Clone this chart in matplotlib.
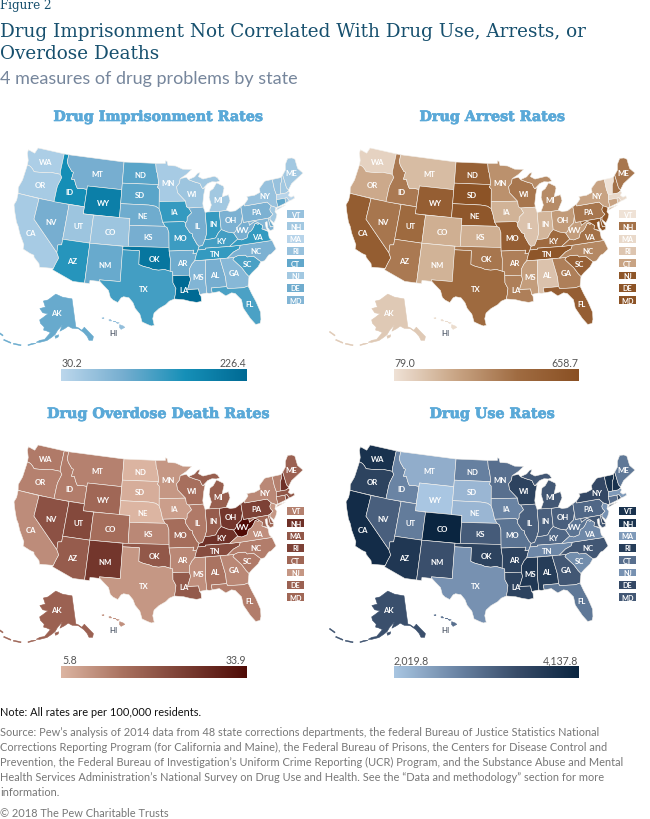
#!/usr/bin/env python
import numpy as np
import matplotlib
matplotlib.use('Agg')
from matplotlib import pyplot as plt
from matplotlib import patheffects
from matplotlib.colors import LinearSegmentedColormap, Normalize
from matplotlib.patches import Polygon, Rectangle

# state outlines, lon/lat
SHAPES = {
'WA': [[(-124.7,48.4),(-123.2,48.15),(-122.8,49.0),(-117.03,49.0),(-117.04,46.4),(-116.92,46.0),(-118.98,46.0),(-119.3,45.93),(-120.5,45.7),(-121.2,45.65),(-122.3,45.55),(-122.8,45.9),(-123.3,46.15),(-124.0,46.27),(-124.1,46.9),(-124.7,47.9)]],
'OR': [[(-124.0,46.27),(-123.3,46.15),(-122.8,45.9),(-122.3,45.55),(-121.2,45.65),(-120.5,45.7),(-119.3,45.93),(-118.98,46.0),(-116.92,46.0),(-116.5,45.6),(-117.0,44.3),(-117.03,43.8),(-117.03,42.0),(-124.2,42.0),(-124.5,42.8),(-124.1,44.0)]],
'CA': [[(-124.2,42),(-120,42),(-120,39),(-114.63,35.0),(-114.13,34.3),(-114.5,33.4),(-114.72,32.72),(-117.12,32.53),(-117.3,33.0),(-118.4,33.75),(-118.5,34.03),(-119.2,34.15),(-120.6,34.55),(-120.65,35.15),(-121.9,36.6),(-122.5,37.5),(-123.0,38.0),(-123.8,39.3),(-124.35,40.3),(-124.1,41.0)]],
'NV': [[(-120,42),(-114.04,42),(-114.04,36.2),(-114.7,36.1),(-114.63,35),(-120,39)]],
'ID': [[(-117.03,49),(-116.05,49),(-116.05,48.0),(-115.7,47.5),(-114.7,46.7),(-114.35,46.65),(-114.5,45.6),(-113.9,45.65),(-113.45,44.95),(-113.0,44.45),(-112.0,44.55),(-111.05,44.5),(-111.05,42),(-117.03,42),(-117.03,43.8),(-117.0,44.3),(-116.5,45.6),(-116.92,46.0),(-117.04,46.4)]],
'MT': [[(-116.05,49),(-104.05,49),(-104.05,45),(-111.05,45),(-111.05,44.5),(-112,44.55),(-113,44.45),(-113.45,44.95),(-113.9,45.65),(-114.5,45.6),(-114.35,46.65),(-114.7,46.7),(-115.7,47.5),(-116.05,48)]],
'WY': [[(-111.05,45),(-104.05,45),(-104.05,41),(-111.05,41)]],
'UT': [[(-114.04,42),(-111.05,42),(-111.05,41),(-109.05,41),(-109.05,37),(-114.04,37)]],
'CO': [[(-109.05,41),(-102.05,41),(-102.05,37),(-109.05,37)]],
'AZ': [[(-114.04,37),(-109.05,37),(-109.05,31.33),(-111.07,31.33),(-114.8,32.5),(-114.72,32.72),(-114.5,33.4),(-114.13,34.3),(-114.63,35),(-114.7,36.1),(-114.04,36.2)]],
'NM': [[(-109.05,37),(-103.0,37),(-103.04,32),(-106.6,32),(-106.5,31.78),(-108.2,31.78),(-108.2,31.33),(-109.05,31.33)]],
'ND': [[(-104.05,49),(-97.23,49),(-97.1,48),(-96.85,47.5),(-96.6,46.3),(-96.56,45.94),(-104.05,45.94)]],
'SD': [[(-104.05,45.94),(-96.56,45.94),(-96.85,45.6),(-96.45,45.3),(-96.45,43.5),(-96.45,42.5),(-97.2,42.85),(-98.5,43.0),(-104.05,43)]],
'NE': [[(-104.05,43),(-98.5,43),(-97.2,42.85),(-96.45,42.5),(-96.1,41.7),(-95.9,41.0),(-95.77,40.58),(-95.31,40),(-102.05,40),(-102.05,41),(-104.05,41)]],
'KS': [[(-102.05,40),(-95.31,40),(-94.9,39.8),(-94.61,39.1),(-94.62,37),(-102.05,37)]],
'OK': [[(-103,37),(-94.62,37),(-94.62,36.5),(-94.43,35.4),(-94.48,33.64),(-95.5,33.9),(-96.5,33.8),(-97.5,33.9),(-98.1,34.1),(-99.2,34.3),(-100,34.56),(-100,36.5),(-103,36.5)]],
'TX': [[(-103.04,36.5),(-100,36.5),(-100,34.56),(-99.2,34.3),(-98.1,34.1),(-97.5,33.9),(-96.5,33.8),(-95.5,33.9),(-94.48,33.64),(-94.04,33.55),(-94.04,33.0),(-94.04,32),(-93.55,31.2),(-93.7,30.3),(-93.85,29.7),(-94.7,29.4),(-95.3,28.9),(-96.4,28.35),(-97.2,27.7),(-97.4,26.9),(-97.15,25.96),(-97.6,25.85),(-98.2,26.05),(-99.1,26.4),(-99.5,27.5),(-100.3,28.3),(-100.7,29.1),(-101.4,29.77),(-102.3,29.88),(-102.7,29.7),(-103.2,29.0),(-104.0,29.3),(-104.5,29.65),(-104.9,30.6),(-106.0,31.4),(-106.5,31.78),(-106.6,32),(-103.04,32)]],
'MN': [[(-97.23,49),(-95.15,49),(-95.15,49.38),(-94.8,49.3),(-94.6,48.7),(-93.0,48.6),(-91.5,48.1),(-89.6,48.0),(-90.8,47.3),(-92.1,46.75),(-92.3,46.1),(-92.9,45.6),(-92.75,44.75),(-91.22,43.5),(-96.45,43.5),(-96.45,45.3),(-96.85,45.6),(-96.56,45.94),(-96.6,46.3),(-96.85,47.5),(-97.1,48)]],
'IA': [[(-96.45,43.5),(-91.22,43.5),(-91.1,42.7),(-90.65,42.5),(-90.15,41.8),(-91.05,41.2),(-91.1,40.7),(-91.42,40.38),(-91.73,40.61),(-95.77,40.58),(-95.9,41.0),(-96.1,41.7),(-96.45,42.5)]],
'MO': [[(-95.77,40.58),(-91.73,40.61),(-91.42,40.38),(-91.4,39.9),(-90.7,39.0),(-90.2,38.8),(-90.2,38.4),(-89.5,37.3),(-89.15,37.0),(-89.4,36.5),(-89.7,36.0),(-90.37,36.0),(-90.15,36.5),(-94.62,36.5),(-94.62,37),(-94.61,39.1),(-94.9,39.8),(-95.31,40)]],
'AR': [[(-94.62,36.5),(-90.15,36.5),(-90.37,36),(-89.7,36),(-90.1,35.0),(-90.6,34.6),(-91.1,33.9),(-91.17,33.0),(-94.04,33.0),(-94.04,33.55),(-94.48,33.64),(-94.43,35.4)]],
'LA': [[(-94.04,33),(-91.17,33),(-91.0,32.4),(-91.6,31.0),(-89.75,31.0),(-89.6,30.2),(-89.4,29.9),(-89.4,29.2),(-90.2,29.1),(-91.3,29.3),(-92.3,29.55),(-93.85,29.7),(-93.7,30.3),(-93.55,31.2),(-94.04,32)]],
'WI': [[(-92.1,46.75),(-90.8,46.9),(-90.4,46.55),(-89.1,46.15),(-88.1,45.9),(-87.8,45.35),(-87.6,45.1),(-87.1,45.25),(-87.5,44.3),(-87.85,43.0),(-87.8,42.5),(-90.65,42.5),(-91.1,42.7),(-91.22,43.5),(-92.75,44.75),(-92.9,45.6),(-92.3,46.1)]],
'IL': [[(-90.65,42.5),(-87.8,42.5),(-87.53,41.72),(-87.53,39.3),(-87.6,38.7),(-88.0,37.9),(-88.5,37.1),(-89.15,37.0),(-89.5,37.3),(-90.2,38.4),(-90.2,38.8),(-90.7,39),(-91.4,39.9),(-91.42,40.38),(-91.1,40.7),(-91.05,41.2),(-90.15,41.8)]],
'IN': [[(-87.53,41.72),(-87.2,41.76),(-84.8,41.76),(-84.82,39.1),(-85.4,38.7),(-86.0,38.0),(-87.0,37.9),(-88.0,37.9),(-87.6,38.7),(-87.53,39.3)]],
'OH': [[(-84.8,41.7),(-83.45,41.73),(-82.7,41.5),(-81.7,41.5),(-80.52,41.98),(-80.52,40.64),(-80.85,39.7),(-81.7,39.2),(-82.2,38.6),(-82.6,38.42),(-83.7,38.65),(-84.82,39.1)]],
'MI': [[(-86.8,41.76),(-84.8,41.7),(-83.45,41.73),(-83.1,42.2),(-82.45,43.0),(-82.6,43.9),(-83.9,43.7),(-83.3,44.9),(-83.4,45.2),(-84.7,45.78),(-85.5,45.0),(-86.2,44.7),(-86.5,43.8),(-86.2,42.7)],
       [(-90.4,46.55),(-89.1,46.9),(-88.4,47.4),(-87.9,47.45),(-88.3,46.9),(-87.4,46.5),(-85.0,46.75),(-84.4,46.5),(-84.0,46.0),(-84.7,45.9),(-85.6,46.0),(-86.5,45.8),(-87.6,45.1),(-87.8,45.35),(-88.1,45.9),(-89.1,46.15)]],
'KY': [[(-89.15,37),(-88.5,37.1),(-88.0,37.9),(-87,37.9),(-86,38),(-85.4,38.7),(-84.82,39.1),(-83.7,38.65),(-82.6,38.42),(-82.0,37.5),(-83.67,36.6),(-88.07,36.68),(-88.07,36.5),(-89.4,36.5)]],
'TN': [[(-89.4,36.5),(-88.07,36.5),(-88.07,36.68),(-83.67,36.6),(-81.68,36.59),(-82.0,36.1),(-83.1,35.75),(-84.3,35.0),(-90.1,35.0),(-89.7,36)]],
'MS': [[(-90.1,35),(-88.2,35),(-88.45,31.9),(-88.4,30.35),(-89.6,30.2),(-89.75,31),(-91.6,31),(-91,32.4),(-91.17,33),(-91.1,33.9),(-90.6,34.6)]],
'AL': [[(-88.2,35),(-85.6,35),(-85.0,32.3),(-85.0,31.0),(-87.6,31.0),(-87.5,30.3),(-88.0,30.25),(-88.4,30.35),(-88.45,31.9)]],
'GA': [[(-85.6,35),(-83.1,35),(-83.35,34.7),(-82.0,33.4),(-81.4,32.5),(-81.0,32.05),(-81.4,30.72),(-82.2,30.57),(-84.86,30.7),(-85,31),(-85,32.3)]],
'FL': [[(-87.6,31),(-85,31),(-84.86,30.7),(-82.2,30.57),(-81.4,30.72),(-81.0,29.6),(-80.5,28.4),(-80.03,26.8),(-80.15,25.75),(-80.4,25.2),(-81.1,25.15),(-81.8,26.1),(-82.7,27.7),(-82.8,28.9),(-83.7,29.9),(-84.3,30.05),(-85.3,29.7),(-86.3,30.4),(-87.5,30.3)]],
'SC': [[(-83.35,34.7),(-83.1,35),(-82.3,35.2),(-81.05,35.1),(-80.8,34.82),(-79.67,34.8),(-78.55,33.86),(-79.2,33.2),(-80.4,32.5),(-81.0,32.05),(-81.4,32.5),(-82.0,33.4)]],
'NC': [[(-84.3,35),(-83.1,35),(-82.3,35.2),(-81.05,35.1),(-80.8,34.82),(-79.67,34.8),(-78.55,33.86),(-77.9,33.9),(-77.0,34.6),(-76.5,34.7),(-75.5,35.25),(-75.9,36.55),(-81.68,36.59),(-82,36.1),(-83.1,35.75)]],
'VA': [[(-83.67,36.6),(-82.0,37.5),(-81.3,37.3),(-80.3,37.5),(-79.9,38.2),(-79.3,38.4),(-78.87,38.76),(-78.35,39.35),(-77.83,39.13),(-77.7,39.3),(-77.05,38.85),(-77.3,38.4),(-76.3,37.9),(-76.3,37.0),(-75.95,36.55),(-81.68,36.59)]],
'WV': [[(-82.6,38.42),(-82.2,38.6),(-81.7,39.2),(-80.85,39.7),(-80.52,40.64),(-80.52,39.72),(-79.48,39.72),(-79.48,39.2),(-78.35,39.65),(-77.7,39.3),(-77.83,39.13),(-78.35,39.35),(-78.87,38.76),(-79.3,38.4),(-79.9,38.2),(-80.3,37.5),(-81.3,37.3),(-82,37.5)]],
'PA': [[(-80.52,41.98),(-79.76,42.25),(-79.76,42),(-75.35,42),(-74.7,41.35),(-75.1,40.95),(-75.1,40.6),(-74.72,40.15),(-75.4,39.8),(-75.79,39.72),(-80.52,39.72),(-80.52,40.64)]],
'NY': [[(-79.76,42.25),(-78.9,42.9),(-79.05,43.27),(-77.5,43.27),(-76.3,43.55),(-76.3,44.1),(-75.0,44.95),(-74.7,45),(-73.35,45),(-73.4,43.6),(-73.25,42.75),(-73.5,42.05),(-73.5,41.3),(-73.65,41.0),(-73.9,41.0),(-74.7,41.35),(-75.35,42),(-79.76,42)],
       [(-74.0,40.6),(-72.0,41.05),(-73.6,40.9)]],
'VT': [[(-73.35,45),(-71.5,45),(-71.6,44.5),(-72.05,44.0),(-72.46,42.73),(-73.25,42.75),(-73.4,43.6)]],
'NH': [[(-71.5,45),(-71.08,45.3),(-70.98,43.4),(-70.7,43.05),(-70.82,42.87),(-71.3,42.7),(-72.46,42.73),(-72.05,44),(-71.6,44.5)]],
'ME': [[(-71.08,45.3),(-70.3,45.9),(-70.0,46.7),(-69.2,47.45),(-68.3,47.35),(-67.79,47.07),(-67.79,45.7),(-67.0,44.85),(-68.5,44.3),(-69.8,43.8),(-70.7,43.05),(-70.98,43.4)]],
'MA': [[(-73.5,42.05),(-73.25,42.75),(-71.3,42.7),(-70.82,42.87),(-70.6,42.65),(-71.0,42.3),(-70.6,41.95),(-70.0,42.05),(-69.95,41.7),(-70.65,41.55),(-71.12,41.5),(-71.38,42.02),(-71.8,42.02)]],
'RI': [[(-71.8,42.02),(-71.38,42.02),(-71.12,41.5),(-71.86,41.32)]],
'CT': [[(-73.5,42.05),(-71.8,42.02),(-71.86,41.32),(-73.65,41.0),(-73.5,41.3)]],
'NJ': [[(-74.7,41.35),(-73.9,41.0),(-74.25,40.45),(-74.0,40.0),(-74.4,39.4),(-74.9,38.93),(-75.5,39.5),(-75.4,39.8),(-74.72,40.15),(-75.1,40.6),(-75.1,40.95)]],
'DE': [[(-75.79,39.72),(-75.4,39.8),(-75.55,39.45),(-75.05,38.45),(-75.7,38.46)]],
'MD': [[(-79.48,39.72),(-75.79,39.72),(-75.7,38.46),(-75.05,38.45),(-75.25,38.03),(-75.9,37.95),(-76.2,38.4),(-76.1,39.3),(-76.5,39.2),(-76.5,38.5),(-76.35,38.05),(-77.3,38.4),(-77.05,38.85),(-77.7,39.3),(-78.35,39.65),(-79.48,39.2)]],
}
AK_SHAPE = [
    [(-141,69.6),(-141,60.3),(-139.5,59.9),(-137.5,58.9),(-135.5,59.7),(-134,58.4),(-131.5,56),(-132.5,54.9),(-134.5,55.2),(-135,56.5),(-136.5,58.0),(-139.5,59.6),(-143.5,60.0),(-146,60.8),(-148.5,60),(-151.5,59.2),(-150,61.2),(-153,59.5),(-154.5,58.0),(-156.5,57),(-159,55.8),(-163,54.8),(-164.9,54.6),(-163,55.5),(-160.5,56.0),(-157.5,58.5),(-160,58.9),(-162,59),(-162,60),(-165,61),(-166,62),(-164,63),(-161,64.5),(-165,64.5),(-168,65.6),(-164,66.5),(-166.8,68.3),(-163,69),(-156.5,71.3),(-150,70.4),(-145,70)],
    [(-154.5,57.5),(-152.3,58.0),(-152.5,57.3),(-154,56.8)],
    [(-164.9,54.2),(-166.8,53.6),(-168.8,52.9),(-169,53.1),(-167,53.9)],
    [(-172.5,52.1),(-176.5,51.7),(-176.5,52.0),(-172.5,52.4)],
    [(-178,51.6),(-182,51.5),(-182,51.8),(-178,51.9)],
    [(-183.5,52.6),(-187,52.8),(-187,53.1),(-183.5,52.9)],
]
HI_SHAPE = [
    [(-155.9,20.25),(-155.1,19.85),(-154.8,19.5),(-155.6,18.95),(-155.95,19.5)],
    [(-156.7,20.95),(-156.0,20.75),(-156.4,20.58)],
    [(-157.3,21.2),(-156.75,21.15),(-157,21.08)],
    [(-158.25,21.55),(-157.95,21.7),(-157.65,21.3),(-158.1,21.3)],
    [(-159.75,22.1),(-159.35,22.2),(-159.35,21.9),(-159.6,21.9)],
]
LABEL_AT = {
'WA':(-120.5,47.4),'OR':(-120.5,44),'CA':(-120,37),'NV':(-116.8,39.2),'ID':(-114.5,43.8),'MT':(-109.5,47),'WY':(-107.5,43),
'UT':(-111.6,39.3),'CO':(-105.6,39),'AZ':(-111.7,34.3),'NM':(-106,34.3),'ND':(-100.5,47.4),'SD':(-100.3,44.4),'NE':(-99.7,41.5),
'KS':(-98.4,38.5),'OK':(-97.3,35.5),'TX':(-99,31.2),'MN':(-94.6,46.2),'IA':(-93.5,42.1),'MO':(-92.5,38.4),'AR':(-92.4,34.8),
'LA':(-92.2,31),'WI':(-89.8,44.5),'IL':(-89.2,40),'MI':(-84.8,43.4),'IN':(-86.2,40),'OH':(-82.8,40.3),'KY':(-85,37.5),
'TN':(-86.3,35.8),'MS':(-89.7,32.7),'AL':(-86.8,32.8),'GA':(-83.4,32.8),'FL':(-81.6,28.2),'SC':(-80.9,33.9),'NC':(-79,35.5),
'VA':(-78.4,37.5),'WV':(-80.8,38.7),'PA':(-77.7,41),'NY':(-75.5,43),'ME':(-69.2,45.3),
}

STATES = ['WA','OR','CA','NV','ID','MT','WY','UT','CO','AZ','NM','ND','SD','NE','KS','OK','TX',
          'MN','IA','MO','AR','LA','WI','IL','MI','IN','OH','KY','TN','MS','AL','GA','FL','SC','NC',
          'VA','WV','PA','NY','ME','VT','NH','MA','RI','CT','NJ','DE','MD','AK','HI']
SMALL_STATES = ['VT','NH','MA','RI','CT','NJ','DE','MD']

imprisonment = [45,50,50,95,165,95,190,60,60,150,105,115,115,100,95,205,130,
                50,140,135,100,226.4,60,95,55,140,90,130,140,85,95,80,125,125,90,
                140,95,90,65,55,65,55,35,65,110,55,100,85,105,70]
arrests = [130,260,570,430,420,200,560,480,240,420,230,540,640,610,240,430,480,
           340,230,560,400,400,430,180,360,220,310,480,620,300,180,400,560,540,370,
           450,300,430,280,430,79,450,110,170,280,620,630,640,160,100]
overdose = [14,13,11.5,21,13.5,13,17,22.5,16,19,26,6,7,5.8,12,19.8,10,
            10,9,16,12,19.5,15.5,14,18.5,19,26,27,22,11,15,12,13.5,14,13.5,
            11,33.9,24,12,18,13,27,20,24,17,10,18,17,18,11]
drug_use = [3900,3600,4000,3200,2750,2300,2020,2850,4137,3800,3400,2800,2200,2200,3250,3600,2600,
            3000,2750,2950,3600,3600,3600,3200,3300,3200,3200,3100,2700,3800,3700,3300,2900,2650,3300,
            2700,2950,3100,3500,2900,3900,3900,2500,3700,3000,2600,3500,3300,3400,3000]

TITLES = ['Drug Imprisonment Rates','Drug Arrest Rates','Drug Overdose Death Rates','Drug Use Rates']
RANGE_LABELS = [('30.2','226.4'),('79.0','658.7'),('5.8','33.9'),('2,019.8','4,137.8')]
RANGES = [(30.2,226.4),(79.0,658.7),(5.8,33.9),(2019.8,4137.8)]
SERIES = [imprisonment,arrests,overdose,drug_use]
RAMPS = [['#bcd7ec','#76aed0','#1690b8','#006a94'],
         ['#efe2d6','#c9a585','#a06c42','#8a5023'],
         ['#dcb5a2','#a9715f','#7a3e33','#4f0b06'],
         ['#a9c6e2','#6c86a6','#384c69','#0a2540']]
OFFSETS = [(0,0),(332,0),(0,297),(332,297)]

NOTE = 'Note: All rates are per 100,000 residents.'
SOURCE = ["Source: Pew\u2019s analysis of 2014 data from 48 state corrections departments, the federal Bureau of Justice Statistics National",
          "Corrections Reporting Program (for California and Maine), the Federal Bureau of Prisons, the Centers for Disease Control and",
          "Prevention, the Federal Bureau of Investigation\u2019s Uniform Crime Reporting (UCR) Program, and the Substance Abuse and Mental",
          "Health Services Administration\u2019s National Survey on Drug Use and Health. See the \u201cData and methodology\u201d section for more",
          "information."]

def albers(lon, lat, lon0, p1, p2):
    n = (np.sin(np.radians(p1)) + np.sin(np.radians(p2))) / 2
    c = np.cos(np.radians(p1))**2 + 2*n*np.sin(np.radians(p1))
    rho = 6371 * np.sqrt(c - 2*n*np.sin(np.radians(lat))) / n
    theta = n * np.radians(lon - lon0)
    return rho*np.sin(theta), rho*np.cos(theta)

# fit the lower 48 into its box on the page
_all = np.array([p for rings in SHAPES.values() for ring in rings for p in ring])
_x, _y = albers(_all[:,0], _all[:,1], -96, 20, 50)
SX = (303 - 14) / (_x.max() - _x.min())
SY = (327 - 149) / (_y.max() - _y.min())

def to_px(lon, lat):
    x, y = albers(lon, lat, -96, 20, 50)
    return 14 + SX*(x - _x.min()), 149 + SY*(y - _y.min())

def ak_px(lon, lat):
    x, y = albers(lon, lat, -150, 55, 65)
    return 62.3 + 0.0274*x, 295 + 0.0274*(y - 2411)

def hi_px(lon, lat):
    return 122 + 4.6*(lon + 155.4), 328 - 3.6*(lat - 19.6)

def draw_shape(ax, rings, func, dx, dy, color, edge='#f4f1ec'):
    for ring in rings:
        pts = np.array(ring)
        px, py = func(pts[:,0], pts[:,1])
        ax.add_patch(Polygon(np.column_stack([px+dx, py+dy]), closed=True, facecolor=color,
                             edgecolor=edge, linewidth=0.4, joinstyle='round', zorder=2))

def draw_panel(ax, i):
    dx, dy = OFFSETS[i]
    cmap = LinearSegmentedColormap.from_list('ramp%d' % i, RAMPS[i])
    norm = Normalize(*RANGES[i])
    vals = dict(zip(STATES, SERIES[i]))
    for st, rings in SHAPES.items():
        draw_shape(ax, rings, to_px, dx, dy, cmap(norm(vals[st])))
    draw_shape(ax, AK_SHAPE, ak_px, dx, dy, cmap(norm(vals['AK'])), edge=cmap(norm(vals['AK'])))
    draw_shape(ax, HI_SHAPE, hi_px, dx, dy, cmap(norm(vals['HI'])), edge=cmap(norm(vals['HI'])))
    for st, (lon, lat) in LABEL_AT.items():
        px, py = to_px(lon, lat)
        ax.text(px+dx, py+dy, st, color='white', fontsize=5.6, family='Lato', weight='bold', ha='center', va='center', zorder=3)
    ax.text(56+dx, 314+dy, 'AK', color='white', fontsize=5.6, family='Lato', weight='bold', ha='center', va='center', zorder=3)
    ax.text(113+dx, 333.5+dy, 'HI', color='#555f6e', fontsize=5.6, family='Lato', weight='bold', ha='center', va='center', zorder=3)
    # boxes for the small northeast states
    for k, st in enumerate(SMALL_STATES):
        cy = 215 + 12.3*k + dy
        ax.add_patch(Rectangle((287+dx, cy-3.9), 17.3, 7.8, facecolor=cmap(norm(vals[st])), edgecolor='none', zorder=2))
        ax.text(295.6+dx, cy, st, color='white', fontsize=5.2, family='Lato', weight='bold', ha='center', va='center', zorder=3)
    # colour bar
    ax.imshow(np.linspace(*RANGES[i], 256)[None,:], cmap=cmap, norm=norm, aspect='auto', interpolation='bilinear',
              extent=(61+dx+(1 if i%2 else 0), 245.5+dx+1, 382.7+dy-0.5, 370.7+dy-0.5))
    ax.text(61+dx+1, 367+dy, RANGE_LABELS[i][0], color='#555', fontsize=7.6, family='Lato', ha='left', va='baseline')
    ax.text(245.5+dx+1, 367+dy, RANGE_LABELS[i][1], color='#555', fontsize=7.6, family='Lato', ha='right', va='baseline')
    title_x = (158 if i % 2 == 0 else 160) + dx
    t = ax.text(title_x, 118+dy, TITLES[i], color='#5aa9d8', fontsize=10.3, family='DejaVu Serif',
                weight='bold', ha='center', va='center')
    t.set_path_effects([patheffects.withStroke(linewidth=0.5, foreground='#5aa9d8')])

if __name__ == '__main__':
    fig = plt.figure(figsize=(6.5, 8.2), dpi=100)
    ax = fig.add_axes([0, 0, 1, 1])
    for i in range(4):
        draw_panel(ax, i)
    ax.set_xlim(0, 650)
    ax.set_ylim(820, 0)
    ax.axis('off')

    ax.text(0.5, 9, 'Figure 2', color='#17506e', fontsize=8.6, family='DejaVu Serif', va='baseline')
    ax.text(0.5, 37, 'Drug Imprisonment Not Correlated With Drug Use, Arrests, or', color='#17506e', fontsize=13.28,
            family='DejaVu Serif', va='baseline')
    ax.text(0.5, 59, 'Overdose Deaths', color='#17506e', fontsize=13.28, family='DejaVu Serif', va='baseline')
    ax.text(0.5, 84, '4 measures of drug problems by state', color='#76869c', fontsize=13, family='Lato', va='baseline')

    ax.text(0.5, 716, NOTE, color='#111', fontsize=7.9, family='Lato', va='baseline')
    for k, line in enumerate(SOURCE):
        ax.text(0.5, 736 + 15*k, line, color='#777', fontsize=7.9, family='Lato', va='baseline')
    ax.text(0.5, 817, '\u00a9 2018 The Pew Charitable Trusts', color='#777', fontsize=7.9, family='Lato', va='baseline')

    fig.savefig('out.png', dpi=100)
    plt.close()
